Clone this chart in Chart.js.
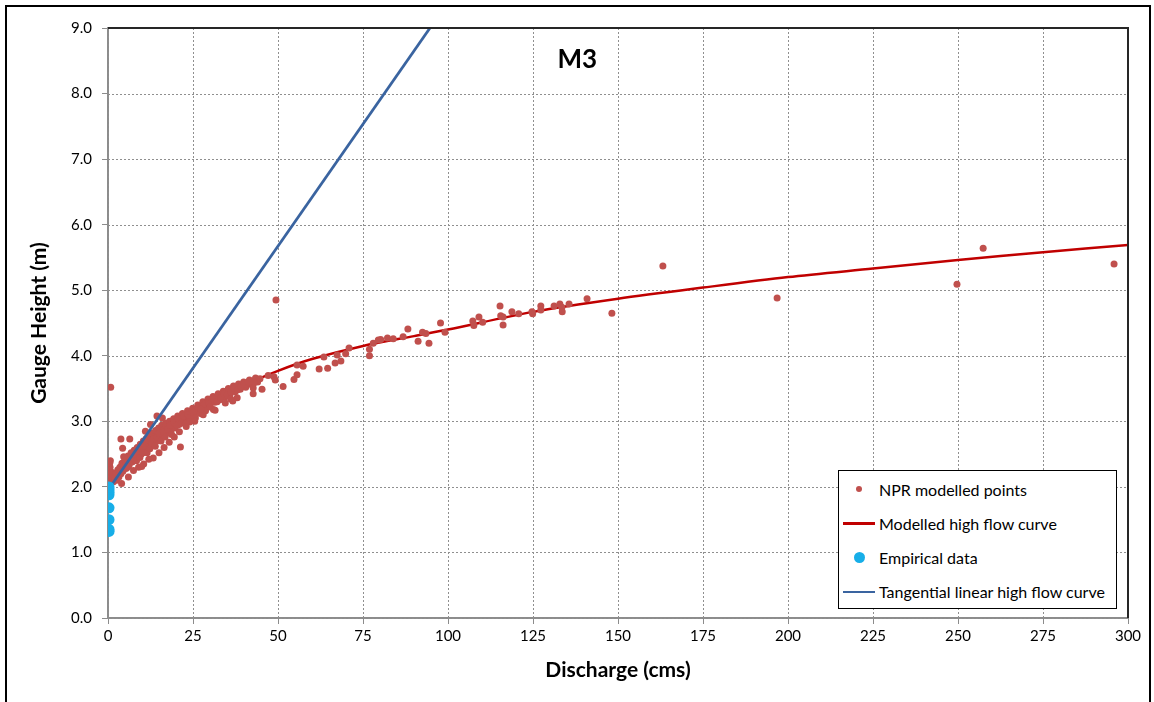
<!DOCTYPE html>
<html>
<head>
<meta charset="utf-8">
<title>M3 rating curve</title>
<script src="https://cdn.jsdelivr.net/npm/chart.js@4.4.1/dist/chart.umd.min.js"></script>
<style>
  html, body { margin: 0; padding: 0; background: #fff; }
  #wrap { position: relative; width: 1154px; height: 702px; overflow: hidden; }
  #legend {
    position: absolute; left: 838px; top: 470px; width: 277px; height: 136px;
    padding-top: 1px; border: 1px solid #000; background: #fff;
    font-family: Lato, sans-serif; font-size: 16px; color: #000;
  }
  #legend .row { height: 34.25px; display: flex; align-items: center; }
  #legend .mk { width: 40px; height: 100%; display: flex; justify-content: center; align-items: center; }
</style>
</head>
<body>
<div id="wrap">
  <canvas id="graph" width="1154" height="702"></canvas>
  <div id="legend"></div>
</div>
<script>
// NPR modelled points [discharge, gauge height]
const nprPoints = [
    [0.3,2.05],[0.4,2.12],[0.5,2.18],[0.4,2.24],[0.6,2.3],[0.5,2.36],[0.7,2.4],[0.9,2.1],[1.1,2.16],[1.3,2.22],[1.6,2.08],[1.9,2.15],
    [2.3,2.2],[2.6,2.1],[2.9,2.26],[3.2,2.15],[3.5,2.3],[3.8,2.2],[4.1,2.36],[4.4,2.24],[4.7,2.32],[5.0,2.42],[5.3,2.28],[5.6,2.38],
    [5.9,2.47],[6.2,2.33],[6.5,2.42],[6.8,2.52],[7.1,2.38],[7.4,2.48],[7.7,2.56],[8.0,2.42],[8.3,2.52],[8.6,2.6],[8.9,2.46],[9.2,2.56],
    [9.5,2.65],[9.8,2.5],[10.1,2.6],[10.4,2.7],[10.7,2.54],[11.0,2.64],[11.3,2.74],[11.6,2.58],[11.9,2.68],[12.2,2.78],[12.5,2.62],
    [12.8,2.72],[13.1,2.82],[13.4,2.66],[13.7,2.76],[14.0,2.86],[14.3,2.7],[14.6,2.8],[14.9,2.9],[15.2,2.74],[15.5,2.84],[15.8,2.94],
    [16.1,2.78],[16.5,2.88],[16.9,2.97],[17.3,2.82],[17.7,2.92],[18.1,3.0],[18.5,2.86],[18.9,2.96],[19.3,3.04],[19.7,2.9],[20.1,3.0],
    [20.5,3.08],[20.9,2.95],[21.4,3.04],[21.9,3.12],[22.4,3.0],[22.9,3.08],[23.4,3.16],[23.9,3.05],[24.4,3.13],[24.9,3.2],[25.4,3.1],
    [25.9,3.18],[26.4,3.25],[26.9,3.15],[27.4,3.23],[27.9,3.3],[28.4,3.2],[28.9,3.28],[29.4,3.34],[29.9,3.25],[30.4,3.32],[30.9,3.38],
    [31.4,3.29],[31.9,3.36],[32.4,3.42],[32.9,3.33],[33.4,3.4],[33.9,3.46],[34.4,3.37],[34.9,3.44],[35.4,3.5],[35.9,3.41],[36.4,3.48],
    [36.9,3.54],[37.4,3.45],[37.9,3.52],[38.4,3.57],[38.9,3.49],[39.4,3.55],[39.9,3.6],[40.5,3.52],[41.0,3.58],[41.6,3.63],[42.2,3.56],
    [42.8,3.62],[43.4,3.66],[44.0,3.6],[44.7,3.65],
    [5.2,2.34],[5.8,2.3],[6.6,2.46],[7.2,2.44],[7.9,2.5],[8.4,2.4],[8.8,2.55],[9.4,2.45],[9.7,2.6],[10.3,2.52],[10.9,2.62],[11.5,2.52],
    [11.8,2.72],[12.3,2.58],[12.9,2.66],[13.5,2.74],[13.9,2.62],[14.5,2.76],[15.1,2.82],[15.6,2.7],[16.3,2.84],[16.8,2.76],[17.5,2.88],
    [18.3,2.94],[18.7,2.8],[19.5,2.98],[20.3,2.94],[20.8,3.04],[21.6,2.98],[22.2,3.08],[22.7,2.96],[23.6,3.1],[24.2,3.06],[25.1,3.14],
    [25.7,3.05],[26.6,3.2],[27.2,3.12],[28.1,3.24],[28.7,3.16],[29.6,3.28],[30.2,3.28],[31.1,3.34],[32.1,3.3],[33.1,3.36],[34.1,3.42],
    [35.1,3.4],[36.1,3.45],[37.1,3.5],[38.1,3.48],[39.1,3.53],[40.1,3.56],[41.3,3.6],[43.0,3.59],
    [4.0,2.05],[6.0,2.15],[7.5,2.25],[9.0,2.3],[10.5,2.35],[12.0,2.42],[13.3,2.44],[15.0,2.52],[16.5,2.6],[18.0,2.68],[19.5,2.76],
    [21.0,2.84],[23.0,2.92],[25.5,3.0],[28.0,3.1],[31.0,3.18],[34.5,3.28],[38.0,3.36],
    [3.8,2.73],[6.4,2.73],[4.3,2.59],[4.6,2.46],[9.9,2.31],[21.3,2.61],[24.0,2.99],[27.3,3.19],[30.0,3.22],[31.5,3.17],[36.1,3.34],
    [36.7,3.31],[42.7,3.51],[42.7,3.42],[45.3,3.49],[14.4,3.08],[12.5,2.95],[16.0,3.05],[11.0,2.85],
    [47.1,3.70],[48.8,3.68],[49.2,3.63],[51.5,3.53],[54.7,3.64],[55.6,3.71],[55.6,3.86],[57.4,3.84],[62.1,3.80],[63.5,3.98],[64.6,3.81],
    [66.8,3.89],[67.4,4.01],[68.5,3.92],[69.9,4.03],[70.9,4.12],[76.9,4.00],[76.9,4.10],[78.0,4.19],[79.5,4.24],[80.2,4.25],[82.2,4.27],
    [83.9,4.26],[86.8,4.29],[88.2,4.41],[91.2,4.22],[92.5,4.36],[93.5,4.34],[94.4,4.19],[97.8,4.50],[99.1,4.36],[107.3,4.53],[107.6,4.46],
    [109.1,4.59],[110.2,4.51],[115.3,4.76],[115.5,4.61],[116.2,4.59],[116.2,4.47],[118.8,4.67],[120.8,4.64],[124.7,4.67],[124.9,4.64],
    [127.3,4.76],[127.3,4.70],[131.2,4.76],[132.9,4.79],[133.5,4.74],[133.6,4.67],[135.6,4.79],[140.9,4.87],[148.2,4.65],
    [0.8,3.52],[49.4,4.85],[163.2,5.37],[196.8,4.88],[249.7,5.09],[257.4,5.64],[295.9,5.40]
];

// modelled high flow curve
const curveQ = [1, 2, 5, 8.5, 15, 20, 25, 30, 40, 50, 60, 75, 90, 100, 125, 150, 175, 200, 225, 250, 275, 300];
const curveH = [2.05, 2.15, 2.4, 2.6, 2.88, 3.02, 3.17, 3.3, 3.55, 3.77, 3.95, 4.15, 4.3, 4.4, 4.67, 4.87, 5.04, 5.2, 5.33, 5.46, 5.58, 5.69];

// tangential linear high flow curve
const tangentQ = [1.2, 94.7];
const tangentH = [2.04, 9.0];

// empirical data
const empiricalQ = [0.3, 0.3, 0.3, 0.3, 0.3, 0.3, 0.3, 0.3];
const empiricalH = [1.32, 1.35, 1.5, 1.68, 1.88, 1.92, 1.96, 2.0];

const xTicks = [0, 25, 50, 75, 100, 125, 150, 175, 200, 225, 250, 275, 300];

const pair = (xs, ys) => xs.map((x, i) => ({x: x, y: ys[i]}));

// dotted grid behind the marks
const dottedGrid = {
    id: 'dottedGrid',
    beforeDatasetsDraw(chart) {
        const {ctx, chartArea: a, scales: {x, y}} = chart;
        ctx.save();
        ctx.strokeStyle = '#8f8f8f';
        ctx.lineWidth = 1;
        ctx.setLineDash([2, 2]);
        ctx.beginPath();
        x.ticks.forEach(t => {
            const px = Math.round(x.getPixelForValue(t.value)) + 0.5;
            ctx.moveTo(px, a.top);
            ctx.lineTo(px, a.bottom);
        });
        y.ticks.forEach(t => {
            const py = Math.round(y.getPixelForValue(t.value)) + 0.5;
            ctx.moveTo(a.left, py);
            ctx.lineTo(a.right, py);
        });
        ctx.stroke();
        ctx.restore();
    }
};

const frame = {
    id: 'frame',
    afterDraw(chart) {
        const {ctx, chartArea: a, scales} = chart;
        ctx.save();
        ctx.strokeStyle = '#262626';
        ctx.lineWidth = 2;
        ctx.beginPath();
        ctx.moveTo(a.left, a.top);
        ctx.lineTo(a.right, a.top);
        ctx.lineTo(a.right, a.bottom);
        ctx.stroke();
        ctx.strokeStyle = '#000';
        ctx.strokeRect(6, 6, 1144, 740);
        ctx.fillStyle = '#000';
        ctx.font = 'bold 26px Lato';
        ctx.textAlign = 'center';
        ctx.textBaseline = 'middle';
        ctx.fillText('M3', scales.x.getPixelForValue(138), scales.y.getPixelForValue(8.52));
        ctx.restore();
    }
};

window.addEventListener('DOMContentLoaded', () => {
    const graph = document.getElementById('graph');
    const chart = new Chart(graph, {
        type: 'scatter',
        data: {
            datasets: [
                {
                    label: 'NPR modelled points',
                    data: nprPoints.map(p => ({x: p[0], y: p[1]})),
                    pointRadius: 3.5,
                    pointBackgroundColor: '#C0504D',
                    pointBorderWidth: 0,
                    order: 2
                },
                {
                    label: 'Modelled high flow curve',
                    type: 'line',
                    data: pair(curveQ, curveH),
                    borderColor: '#C00000',
                    borderWidth: 2.5,
                    pointRadius: 0,
                    tension: 0.3,
                    order: 3
                },
                {
                    label: 'Empirical data',
                    data: pair(empiricalQ, empiricalH),
                    pointRadius: 5.5,
                    pointBackgroundColor: '#17AEE8',
                    pointBorderWidth: 0,
                    order: 0
                },
                {
                    label: 'Tangential linear high flow curve',
                    type: 'line',
                    data: pair(tangentQ, tangentH),
                    borderColor: '#3A64A0',
                    borderWidth: 2.8,
                    pointRadius: 0,
                    order: 1
                }
            ]
        },
        options: {
            responsive: false,
            animation: false,
            layout: {padding: {left: 0, right: 26, top: 28, bottom: 0}},
            plugins: {legend: {display: false}, tooltip: {enabled: false}},
            scales: {
                x: {
                    type: 'linear',
                    min: 0,
                    max: 300,
                    afterBuildTicks: s => { s.ticks = xTicks.map(v => ({value: v})); },
                    afterFit: s => { s.height = 84; },
                    grid: {drawOnChartArea: false, tickColor: '#8c8c8c', tickLength: 6},
                    border: {color: '#8c8c8c', width: 2},
                    ticks: {color: '#000', padding: 3, maxRotation: 0, font: {family: 'Lato', size: 15}},
                    title: {display: true, text: 'Discharge (cms)', color: '#000', padding: {top: 0, bottom: 19},
                        font: {family: 'Lato', size: 21, weight: 'bold'}}
                },
                y: {
                    type: 'linear',
                    min: 0,
                    max: 9,
                    afterFit: s => { s.width = 108; },
                    grid: {drawOnChartArea: false, tickColor: '#8c8c8c', tickLength: 6},
                    border: {color: '#8c8c8c', width: 2},
                    ticks: {stepSize: 1, color: '#000', padding: 10, font: {family: 'Lato', size: 15},
                        callback: v => v.toFixed(1)},
                    title: {display: true, text: 'Gauge Height (m)', color: '#000', padding: {top: 27, bottom: 0},
                        font: {family: 'Lato', size: 21, weight: 'bold'}}
                }
            }
        },
        plugins: [dottedGrid, frame]
    });
    buildLegend(chart);
});

function buildLegend(chart) {
    const box = document.getElementById('legend');
    chart.data.datasets.forEach((ds) => {
        const row = document.createElement('div');
        row.className = 'row';
        const mk = document.createElement('span');
        mk.className = 'mk';
        const sym = document.createElement('span');
        if (ds.type === 'line') {
            sym.style.cssText = 'display:block;width:32px;height:2.5px;background:' + ds.borderColor;
        } else {
            const d = ds.label === 'Empirical data' ? 11 : 6;
            sym.style.cssText = 'display:block;border-radius:50%;width:' + d + 'px;height:' + d + 'px;background:' + ds.pointBackgroundColor;
        }
        mk.appendChild(sym);
        row.appendChild(mk);
        const txt = document.createElement('span');
        txt.textContent = ds.label;
        row.appendChild(txt);
        box.appendChild(row);
    });
}
</script>
</body>
</html>
